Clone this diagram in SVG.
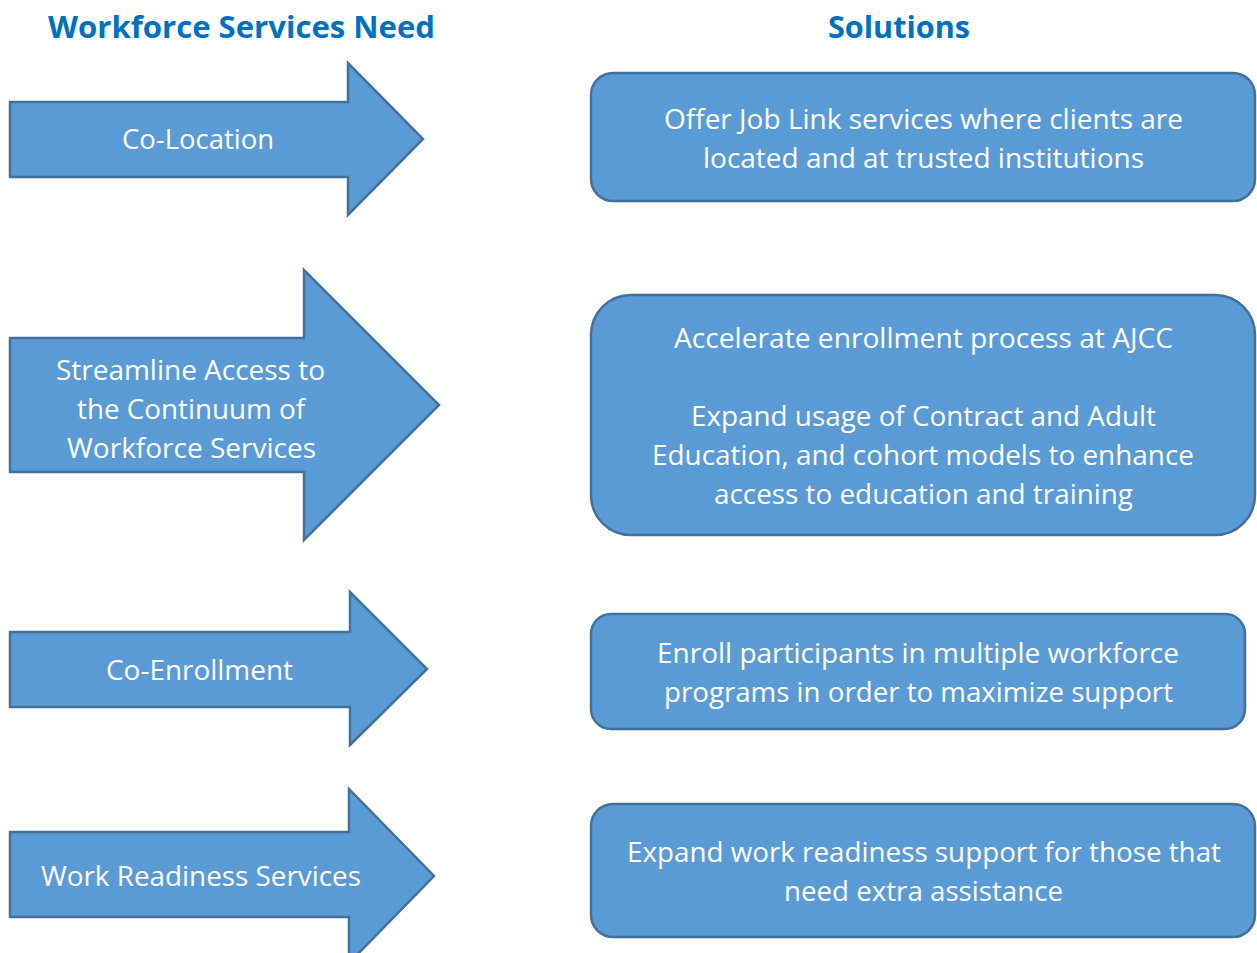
<svg xmlns="http://www.w3.org/2000/svg" width="1257" height="953" viewBox="0 0 1257 953">
<style>
.shape{fill:#5B9BD5;stroke:#41719C;stroke-width:2.5;stroke-linejoin:miter}
.t{font-family:"Open Sans","Liberation Sans",sans-serif;font-size:28px;fill:#FFFFFF;text-anchor:middle}
.h{font-family:"Open Sans","Liberation Sans",sans-serif;font-size:31px;font-weight:bold;fill:#0070C0;text-anchor:middle}
</style>
<rect width="1257" height="953" fill="#FFFFFF"/>
<g id="titles">
<text class="h" x="241.5" y="38" textLength="387" lengthAdjust="spacingAndGlyphs">Workforce Services Need</text>
<text class="h" x="899" y="38" textLength="142" lengthAdjust="spacingAndGlyphs">Solutions</text>
</g>
<g id="need-colocation">
<polygon class="shape" points="10,102 348,102 348,63 423,139 348,215 348,177 10,177"/>
<text class="t" x="198" y="149" textLength="152" lengthAdjust="spacingAndGlyphs">Co-Location</text>
</g>
<g id="need-streamline">
<polygon class="shape" points="10,338 304,338 304,270 439,405 304,540 304,472 10,472"/>
<text class="t" x="190.5" y="380" textLength="269" lengthAdjust="spacingAndGlyphs">Streamline Access to</text>
<text class="t" x="191" y="419" textLength="228" lengthAdjust="spacingAndGlyphs">the Continuum of</text>
<text class="t" x="191.5" y="458" textLength="249" lengthAdjust="spacingAndGlyphs">Workforce Services</text>
</g>
<g id="need-coenrollment">
<polygon class="shape" points="10,632 350,632 350,592 427,669 350,745 350,707 10,707"/>
<text class="t" x="199.5" y="680" textLength="187" lengthAdjust="spacingAndGlyphs">Co-Enrollment</text>
</g>
<g id="need-workreadiness">
<polygon class="shape" points="10,832 349,832 349,789 434,876 349,963 349,917 10,917"/>
<text class="t" x="201" y="886" textLength="320" lengthAdjust="spacingAndGlyphs">Work Readiness Services</text>
</g>
<g id="solution-joblink">
<rect class="shape" x="591" y="73" width="664" height="128" rx="22" ry="22"/>
<text class="t" x="923.5" y="129" textLength="519" lengthAdjust="spacingAndGlyphs">Offer Job Link services where clients are</text>
<text class="t" x="923.5" y="168" textLength="441" lengthAdjust="spacingAndGlyphs">located and at trusted institutions</text>
</g>
<g id="solution-enrollment">
<rect class="shape" x="591" y="295" width="664" height="240" rx="40" ry="40"/>
<text class="t" x="923.5" y="348" textLength="499" lengthAdjust="spacingAndGlyphs">Accelerate enrollment process at AJCC</text>
<text class="t" x="923.5" y="426" textLength="465" lengthAdjust="spacingAndGlyphs">Expand usage of Contract and Adult</text>
<text class="t" x="923" y="465" textLength="542" lengthAdjust="spacingAndGlyphs">Education, and cohort models to enhance</text>
<text class="t" x="923.5" y="504" textLength="419" lengthAdjust="spacingAndGlyphs">access to education and training</text>
</g>
<g id="solution-coenroll">
<rect class="shape" x="591" y="614" width="654" height="115" rx="20" ry="20"/>
<text class="t" x="918" y="663" textLength="522" lengthAdjust="spacingAndGlyphs">Enroll participants in multiple workforce</text>
<text class="t" x="918.5" y="702" textLength="509" lengthAdjust="spacingAndGlyphs">programs in order to maximize support</text>
</g>
<g id="solution-workreadiness">
<rect class="shape" x="591" y="804" width="664" height="133" rx="22" ry="22"/>
<text class="t" x="924" y="862" textLength="594" lengthAdjust="spacingAndGlyphs">Expand work readiness support for those that</text>
<text class="t" x="923.5" y="901" textLength="279" lengthAdjust="spacingAndGlyphs">need extra assistance</text>
</g>
<g id="connectors"></g>
</svg>
